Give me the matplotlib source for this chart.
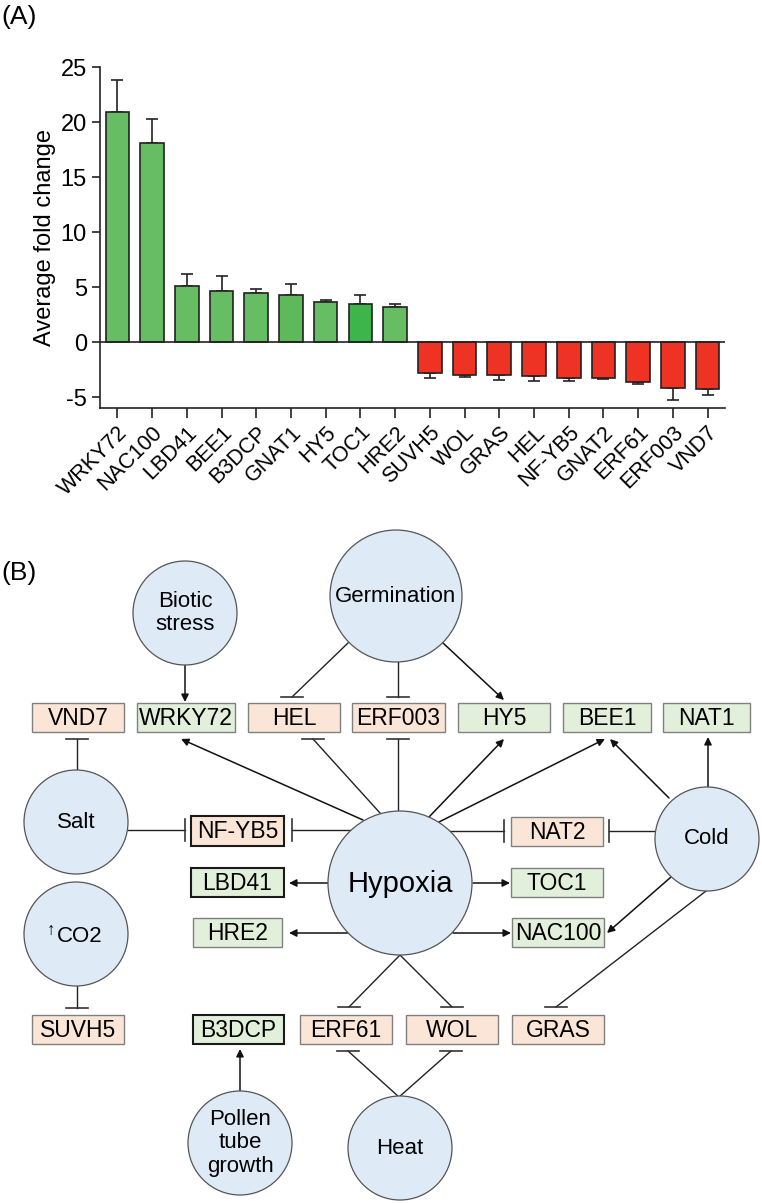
# Panel A: fold change bars, panel B: hypoxia interaction network

import numpy as np
import matplotlib
matplotlib.use('Agg')
import matplotlib.pyplot as plt
from matplotlib.patches import Circle, Rectangle

plt.rcParams['font.family'] = ['Liberation Sans', 'DejaVu Sans']
plt.rcParams['axes.unicode_minus'] = False

# ---- panel A data
genes = ['WRKY72', 'NAC100', 'LBD41', 'BEE1', 'B3DCP', 'GNAT1', 'HY5', 'TOC1', 'HRE2',
         'SUVH5', 'WOL', 'GRAS', 'HEL', 'NF-YB5', 'GNAT2', 'ERF61', 'ERF003', 'VND7']
fold = [20.9, 18.1, 5.1, 4.6, 4.5, 4.3, 3.6, 3.5, 3.2,
        -2.85, -2.97, -2.97, -3.06, -3.25, -3.27, -3.67, -4.15, -4.27]
sem = [2.9, 2.2, 1.05, 1.4, 0.35, 0.95, 0.2, 0.8, 0.3,
       0.42, 0.18, 0.48, 0.44, 0.3, 0.06, 0.15, 1.09, 0.58]

# ---- panel B nodes
stimuli = ['Biotic\nstress', 'Germination', 'Salt', 'CO2', 'Hypoxia', 'Cold',
           'Pollen\ntube\ngrowth', 'Heat']
up_genes = ['WRKY72', 'HY5', 'BEE1', 'NAT1', 'LBD41', 'TOC1', 'HRE2', 'NAC100', 'B3DCP']
down_genes = ['VND7', 'HEL', 'ERF003', 'NF-YB5', 'NAT2', 'SUVH5', 'ERF61', 'WOL', 'GRAS']
dark_edge = ['NF-YB5', 'LBD41', 'B3DCP']

# layout in pixel coords (x, y, radius)
circle_pos = {'Biotic\nstress': (185, 613, 52), 'Germination': (396, 596, 66),
              'Salt': (76, 822, 52), 'CO2': (76, 934, 52), 'Hypoxia': (400, 883, 72),
              'Cold': (707, 839, 52), 'Pollen\ntube\ngrowth': (240, 1143, 52),
              'Heat': (400, 1148, 52)}
box_pos = {'VND7': (32, 703, 124, 732), 'WRKY72': (137, 703, 235, 732),
           'HEL': (248, 703, 340, 732), 'ERF003': (352, 703, 445, 732),
           'HY5': (458, 703, 550, 732), 'BEE1': (563, 703, 651, 732),
           'NAT1': (663, 703, 750, 732), 'NF-YB5': (191, 816, 284, 846),
           'NAT2': (511, 817, 603, 846), 'LBD41': (191, 868, 284, 897),
           'TOC1': (511, 868, 603, 897), 'HRE2': (193, 918, 282, 947),
           'NAC100': (512, 918, 604, 947), 'SUVH5': (32, 1015, 124, 1044),
           'B3DCP': (193, 1015, 284, 1044), 'ERF61': (300, 1015, 392, 1044),
           'WOL': (406, 1015, 498, 1044), 'GRAS': (512, 1015, 604, 1044)}

# edges: start, end, kind ('a' = activation arrow, 't' = inhibition)
edges = [((185, 665), (185, 702), 'a'),
         ((348, 643), (292, 697), 't'),
         ((398, 662), (398, 697), 't'),
         ((443, 643), (504, 700), 'a'),
         ((363, 820), (181, 739), 'a'),
         ((380, 813), (313, 739), 't'),
         ((398, 811), (398, 739), 't'),
         ((429, 817), (504, 739), 'a'),
         ((439, 822), (605, 739), 'a'),
         ((669, 798), (610, 739), 'a'),
         ((708, 787), (708, 737), 'a'),
         ((77, 771), (77, 739), 't'),
         ((128, 830), (185, 830), 't'),
         ((352, 830), (292, 830), 't'),
         ((449, 831), (504, 831), 't'),
         ((656, 831), (609, 831), 't'),
         ((328, 883), (289, 883), 'a'),
         ((473, 883), (510, 883), 'a'),
         ((349, 933), (289, 933), 'a'),
         ((453, 933), (511, 933), 'a'),
         ((671, 877), (607, 933), 'a'),
         ((706, 891), (556, 1007), 't'),
         ((400, 955), (349, 1007), 't'),
         ((400, 955), (452, 1007), 't'),
         ((77, 986), (77, 1008), 't'),
         ((240, 1092), (240, 1049), 'a'),
         ((399, 1097), (348, 1051), 't'),
         ((399, 1097), (451, 1051), 't')]

fig = plt.figure(figsize=(7.62, 12.03), dpi=100)

# ---------------- panel A
ax = fig.add_axes([0.1312, 0.6608, 0.8202, 0.2835])
x = np.arange(len(genes))
fold = np.array(fold)
sem = np.array(sem)
colors = ['#66bd63' if v > 0 else '#ee3224' for v in fold]
colors[genes.index('TOC1')] = '#3db54a'
colors[genes.index('GNAT1')] = '#5eb95c'
lower = np.where(fold > 0, 0, sem)
upper = np.where(fold > 0, sem, 0)
ax.bar(x, fold, width=0.68, color=colors, edgecolor='#222222', linewidth=1.2, zorder=2)
ax.errorbar(x, fold, yerr=[lower, upper], fmt='none', ecolor='#222222',
            elinewidth=1.2, capsize=4.3, capthick=1.2, zorder=1)
ax.axhline(0, color='#222222', lw=1.2, zorder=3)
ax.set_xlim(-0.5, 17.5)
ax.set_ylim(-6, 25)
ax.set_yticks([-5, 0, 5, 10, 15, 20, 25])
ax.set_xticks(x)
ax.set_xticklabels(genes, rotation=45, ha='right', va='top', rotation_mode='anchor',
                   fontsize=15.5)
ax.tick_params(axis='y', labelsize=17, length=6, width=1.2, color='#222222')
ax.tick_params(axis='x', length=7, width=1.2, color='#222222', pad=3)
for s in ['top', 'right']:
    ax.spines[s].set_visible(False)
for s in ['left', 'bottom']:
    ax.spines[s].set_linewidth(1.2)
    ax.spines[s].set_color('#222222')
ax.set_ylabel('Average fold change', fontsize=17, labelpad=3)

# ---------------- panel B
bx = fig.add_axes([0, 0, 1, 1], zorder=-1)
bx.set_xlim(0, 762)
bx.set_ylim(1203, 0)
bx.axis('off')
bx.patch.set_alpha(0)

bx.text(1, 17, '(A)', fontsize=19, va='center', ha='left')
bx.text(1, 573, '(B)', fontsize=19, va='center', ha='left')

for name in stimuli:
    cx, cy, r = circle_pos[name]
    bx.add_patch(Circle((cx, cy), r, facecolor='#deebf7', edgecolor='#555555',
                        lw=0.9, zorder=2))
    if name == 'CO2':
        bx.text(cx + 4, cy + 2, 'CO2', fontsize=16, ha='center', va='center', zorder=4)
        bx.text(cx - 25, cy - 4, '\u2191', fontsize=12, ha='center', va='center', zorder=4)
    elif name == 'Hypoxia':
        bx.text(cx, cy + 1, name, fontsize=21, ha='center', va='center', zorder=4)
    else:
        bx.text(cx, cy, name, fontsize=16, ha='center', va='center', zorder=4,
                linespacing=1.15)

for name, (x0, y0, x1, y1) in box_pos.items():
    fc = '#e2efda' if name in up_genes else '#fbe5d6'
    ec = '#1a1a1a' if name in dark_edge else '#808080'
    lw = 1.5 if name in dark_edge else 1.0
    bx.add_patch(Rectangle((x0, y0), x1 - x0, y1 - y0, facecolor=fc, edgecolor=ec,
                           lw=lw, zorder=3))
    bx.text((x0 + x1) / 2, (y0 + y1) / 2 + 1, name, fontsize=16.5, ha='center',
            va='center', zorder=4)

for (p0, p1, kind) in edges:
    if kind == 'a':
        bx.annotate('', xy=p1, xytext=p0,
                    arrowprops=dict(arrowstyle='-|>', color='#111111', lw=1.1,
                                    mutation_scale=11, shrinkA=0, shrinkB=0),
                    zorder=1)
    else:
        bx.plot([p0[0], p1[0]], [p0[1], p1[1]], color='#222222', lw=1.0, zorder=1)
        if abs(p1[1] - p0[1]) < 1:
            bx.plot([p1[0], p1[0]], [p1[1] - 11, p1[1] + 11], color='#333333', lw=1.2)
        else:
            bx.plot([p1[0] - 11, p1[0] + 11], [p1[1], p1[1]], color='#333333', lw=1.2)

fig.savefig('out.png', dpi=100)
